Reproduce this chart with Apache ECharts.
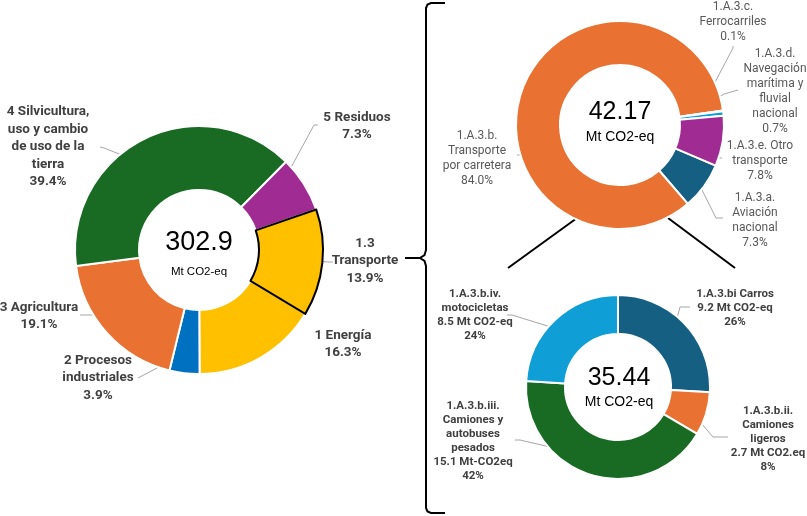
<!DOCTYPE html>
<html>
<head>
<meta charset="utf-8">
<script src="https://cdn.jsdelivr.net/npm/echarts@6/dist/echarts.min.js"></script>
<style>
html,body{margin:0;padding:0;background:#fff;}
#chart{width:807px;height:516px;}
</style>
</head>
<body>
<div id="chart"></div>
<script>
// ---------- DATA ----------
// Left donut: national emissions by sector (%)
var mainNames = ['1 Energía', '2 Procesos\nindustriales', '3 Agricultura', '4 Silvicultura,\nuso y cambio\nde uso de la\ntierra', '5 Residuos', '1.3\nTransporte'];
var mainValues = [16.3, 3.9, 19.1, 39.4, 7.3, 13.9];
var mainTotal = '302.9';

// Top-right donut: transport breakdown (%)
var transNames = ['1.A.3.a.\nAviación\nnacional', '1.A.3.b.\nTransporte\npor carretera', '1.A.3.c.\nFerrocarriles', '1.A.3.d.\nNavegación\nmarítima y\nfluvial\nnacional', '1.A.3.e. Otro\ntransporte'];
var transValues = [7.3, 84.0, 0.1, 0.7, 7.8];
var transTotal = '42.17';

// Bottom-right donut: road transport breakdown (Mt CO2-eq)
var roadNames = ['1.A.3.bi Carros', '1.A.3.b.ii.\nCamiones\nligeros', '1.A.3.b.iii.\nCamiones y\nautobuses\npesados', '1.A.3.b.iv.\nmotocicletas'];
var roadValues = [9.2, 2.7, 15.1, 8.5];
var roadUnits = ['Mt CO2-eq', 'Mt CO2.eq', 'Mt-CO2eq', 'Mt CO2-eq'];
var roadPct = ['26%', '8%', '42%', '24%'];
var roadTotal = '35.44';
var unitText = 'Mt CO2-eq';

// ---------- LAYOUT / STYLE ----------
var mainColors = ['#FFC000', '#0070C0', '#E97132', '#196B24', '#A02B93', '#FFC000'];
var transColors = ['#156082', '#E97132', '#0F9ED5', '#0F9ED5', '#A02B93'];
var roadColors = ['#156082', '#E97132', '#196B24', '#0F9ED5'];

var mainLabelPos = [
  {x: 343, y: 344, line: null},
  {x: 98, y: 378, line: [[138, 378], [157, 368], [190, 343]]},
  {x: 39, y: 316, line: [[80, 315], [86, 315], [128, 315]]},
  {x: 48, y: 147, line: [[100, 147], [104, 148], [152, 167]]},
  {x: 357, y: 126, line: [[318, 125], [314, 125], [275, 197]]},
  {x: 365, y: 261, line: [[333, 262], [328, 262], [290, 258]]}
];
var transLabelPos = [
  {x: 755, y: 220, line: [[723, 218], [716, 218], [692, 170]]},
  {x: 477, y: 158, line: [[517, 155], [520, 155], [542, 100]]},
  {x: 733, y: 22, line: [[733, 46], [733, 48], [702, 107]]},
  {x: 775, y: 91, line: [[738, 90], [724, 94], [707, 104]]},
  {x: 760, y: 161, line: [[722, 158], [714, 158], [703, 133]]}
];
var roadLabelPos = [
  {x: 735, y: 308, line: [[690, 307], [680, 307], [672, 337]]},
  {x: 768, y: 439, line: [[728, 437], [713, 437], [690, 410]]},
  {x: 473, y: 441, line: [[515, 440], [520, 440], [597, 458]]},
  {x: 475, y: 315, line: [[507, 315], [512, 315], [567, 332]]}
];

function mkLayout(pos) {
  return function (p) {
    var q = pos[p.dataIndex];
    var r = {x: q.x, y: q.y, align: 'center', verticalAlign: 'middle'};
    if (q.line) r.labelLinePoints = q.line;
    return r;
  };
}

var narrow = "'Roboto', 'Liberation Sans', sans-serif";
var regular = "'Liberation Sans', Arial, sans-serif";

var mainData = mainNames.map(function (n, i) {
  var d = {name: n, value: mainValues[i], itemStyle: {color: mainColors[i]}};
  if (i === 5) { d.itemStyle.borderColor = '#000'; d.itemStyle.borderWidth = 2; }
  if (i === 0) { d.labelLine = {show: false}; }
  return d;
});
var transData = transNames.map(function (n, i) {
  return {name: n, value: transValues[i], itemStyle: {color: transColors[i]}};
});
var roadData = roadNames.map(function (n, i) {
  return {name: n, value: roadValues[i], itemStyle: {color: roadColors[i]}};
});

function txt(t, x, y, size) {
  return {type: 'text', z: 10, style: {text: t, x: x, y: y, align: 'center', verticalAlign: 'middle', fontFamily: regular, fontSize: size, fill: '#000'}};
}

var chart = echarts.init(document.getElementById('chart'), null, {renderer: 'canvas'});
chart.setOption({
  backgroundColor: '#ffffff',
  animation: false,
  series: [
    {
      type: 'pie',
      center: [199, 250],
      radius: [60, 124],
      startAngle: -31,
      clockwise: true,
      avoidLabelOverlap: false,
      itemStyle: {borderColor: '#fff', borderWidth: 2},
      label: {
        show: true,
        fontFamily: narrow,
        fontWeight: 'bold',
        fontSize: 13.5,
        lineHeight: 17.5,
        color: '#404040',
        formatter: function (p) { return mainNames[p.dataIndex] + '\n' + mainValues[p.dataIndex].toFixed(1) + '%'; }
      },
      labelLine: {show: true, lineStyle: {color: '#a6a6a6', width: 1}},
      labelLayout: mkLayout(mainLabelPos),
      data: mainData
    },
    {
      type: 'pie',
      center: [620, 125],
      radius: [60, 104],
      startAngle: -23,
      clockwise: true,
      avoidLabelOverlap: false,
      itemStyle: {borderColor: '#fff', borderWidth: 2},
      label: {
        show: true,
        fontFamily: narrow,
        fontSize: 12,
        lineHeight: 15,
        color: '#595959',
        formatter: function (p) { return transNames[p.dataIndex] + '\n' + transValues[p.dataIndex].toFixed(1) + '%'; }
      },
      labelLine: {show: true, lineStyle: {color: '#a6a6a6', width: 1}},
      labelLayout: mkLayout(transLabelPos),
      data: transData
    },
    {
      type: 'pie',
      center: [618, 387],
      radius: [53, 92],
      startAngle: 90,
      clockwise: true,
      avoidLabelOverlap: false,
      itemStyle: {borderColor: '#fff', borderWidth: 2},
      label: {
        show: true,
        fontFamily: narrow,
        fontWeight: 'bold',
        fontSize: 11.5,
        lineHeight: 14,
        color: '#404040',
        formatter: function (p) {
          var i = p.dataIndex;
          return roadNames[i] + '\n' + roadValues[i].toFixed(1) + ' ' + roadUnits[i] + '\n' + roadPct[i];
        }
      },
      labelLine: {show: true, lineStyle: {color: '#a6a6a6', width: 1}},
      labelLayout: mkLayout(roadLabelPos),
      data: roadData
    }
  ],
  graphic: [
    txt(mainTotal, 199, 243, 27),
    txt(unitText, 199, 272, 11.5),
    txt(transTotal, 620, 112, 25),
    txt(unitText, 620, 137, 14),
    txt(roadTotal, 619, 378, 25),
    txt(unitText, 619, 402, 14),
    {type: 'polyline', shape: {points: [[445,3],[431,3],[427.5,4.5],[426,8],[426,250],[424.5,255],[420,258],[424.5,261],[426,266],[426,508],[427.5,511.5],[431,513],[445,513]]}, style: {fill: null, stroke: '#000', lineWidth: 2}},
    {type: 'line', shape: {x1: 405, y1: 258, x2: 420, y2: 258}, style: {stroke: '#000', lineWidth: 2}},
    {type: 'line', shape: {x1: 577, y1: 218, x2: 508, y2: 268}, style: {stroke: '#000', lineWidth: 2}},
    {type: 'line', shape: {x1: 668, y1: 218, x2: 735, y2: 268}, style: {stroke: '#000', lineWidth: 2}}
  ]
});
</script>
</body>
</html>
